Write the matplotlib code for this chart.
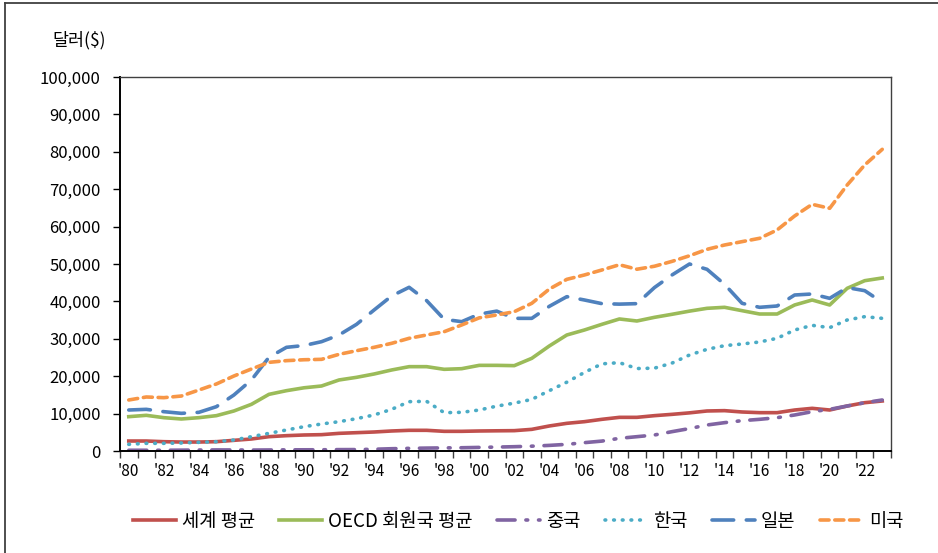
import matplotlib
matplotlib.use('Agg')
import matplotlib.pyplot as plt
from matplotlib.ticker import FuncFormatter
from matplotlib.lines import Line2D

plt.rcParams['font.family'] = ['Noto Sans CJK KR', 'DejaVu Sans']

years = list(range(1980, 2024))
world = [2670, 2670, 2490, 2400, 2400, 2490, 2850, 3210, 3830, 4100,
         4280, 4370, 4720, 4900, 5080, 5350, 5530, 5530, 5260, 5260,
         5350, 5400, 5440, 5790, 6690, 7400, 7840, 8470, 9000, 9000,
         9450, 9800, 10200, 10700, 10790, 10430, 10250, 10250, 10960, 11410,
         10960, 12030, 12920, 13370]
oecd = [9180, 9540, 8910, 8560, 8910, 9450, 10700, 12480, 15150, 16130,
        16900, 17380, 18990, 19700, 20590, 21660, 22550, 22550, 21840, 22010,
        22900, 22900, 22820, 24780, 28080, 31020, 32350, 33870, 35300, 34760,
        35740, 36550, 37400, 38150, 38420, 37520, 36630, 36630, 39040, 40380,
        39040, 43500, 45540, 46260]
china = [200, 200, 200, 230, 260, 290, 280, 250, 280, 310,
         320, 330, 370, 380, 470, 610, 710, 780, 830, 870,
         960, 1050, 1150, 1290, 1500, 1780, 2230, 2650, 3390, 3830,
         4280, 5170, 6000, 6950, 7580, 8110, 8470, 8910, 9630, 10520,
         11140, 12030, 12920, 13640]
korea = [1780, 2050, 2050, 2140, 2320, 2490, 2940, 3830, 4720, 5620,
         6500, 7220, 7840, 8650, 9630, 11140, 13190, 13280, 10250, 10340,
         10960, 12000, 12800, 13800, 16130, 18400, 21000, 23300, 23620, 22050,
         22150, 23500, 25670, 27180, 28170, 28610, 29150, 30130, 32350, 33600,
         32980, 35030, 35920, 35470]
japan = [10960, 11140, 10520, 10070, 10340, 11850, 14970, 18990, 25050, 27720,
         28200, 29230, 31020, 33870, 37700, 41450, 43770, 40200, 35210, 34580,
         36600, 37400, 35470, 35470, 38680, 41270, 40380, 39400, 39270, 39400,
         43700, 47060, 50000, 48580, 44570, 39490, 38420, 38770, 41710, 41980,
         40820, 43680, 42870, 39760]
usa = [13640, 14440, 14260, 14700, 16300, 17920, 20050, 21930, 23700, 24160,
       24400, 24510, 25850, 26820, 27720, 28790, 30130, 31020, 31900, 33700,
       35600, 36370, 37250, 39490, 43300, 45900, 47060, 48400, 49800, 48600,
       49400, 50700, 52200, 53920, 55080, 55980, 56870, 59100, 62840, 65960,
       64890, 71130, 76480, 80660]

names = ['세계 평균', 'OECD 회원국 평균', '중국', '한국', '일본', '미국']

fig = plt.figure(figsize=(9.38, 5.53), dpi=100)
ax = fig.add_axes([120/938, 1-451/553, 771/938, 374/553])

x = list(range(len(years)))
lw = 2.6
ax.plot(x, world, color='#C0504D', lw=lw, label=names[0])
ax.plot(x, oecd, color='#9BBB59', lw=lw, label=names[1])
ax.plot(x, china, color='#8064A2', lw=lw, dashes=(5, 3, 0.5, 3), dash_capstyle='round', label=names[2])
ax.plot(x, korea, color='#4BACC6', lw=lw, dashes=(0.2, 2.2), dash_capstyle='round', label=names[3])
ax.plot(x, japan, color='#4F81BD', lw=lw, dashes=(6, 3.5), dash_capstyle='round', label=names[4])
ax.plot(x, usa, color='#F79646', lw=lw, dashes=(2.5, 1.6), dash_capstyle='round', label=names[5])

ax.set_xlim(-0.5, len(years) - 0.5)
ax.set_ylim(0, 100000)
ax.set_yticks(range(0, 100001, 10000))
ax.yaxis.set_major_formatter(FuncFormatter(lambda v, p: f'{int(v):,}'))
ax.set_xticks([i - 0.5 for i in range(len(years) + 1)])
ax.set_xticklabels([])
ax.set_xticks(x[::2], minor=True)
ax.set_xticklabels(["'" + str(y)[2:] for y in years[::2]], minor=True)
ax.tick_params(axis='x', which='major', direction='out', length=5, width=1, color='#404040')
ax.tick_params(axis='x', which='minor', length=0, pad=9, labelsize=11)
ax.tick_params(axis='y', direction='out', length=5, width=1, labelsize=12, pad=9)

for s in ['top', 'right']:
    ax.spines[s].set_color('#404040')
    ax.spines[s].set_linewidth(1.0)
for s in ['left', 'bottom']:
    ax.spines[s].set_color('black')
    ax.spines[s].set_linewidth(1.4)

fig.text(52/938, 1-40/553, '달러($)', fontsize=12.5, va='center', ha='left')

fig.legend(loc='center', bbox_to_anchor=(518/938, 1-521/553), ncol=6, frameon=False,
           fontsize=13.5, handlelength=2.3, handletextpad=0.3, columnspacing=1.3)

# outer frame of the chart
fig.add_artist(Line2D([5/938, 5/938], [0, 1-3/553], transform=fig.transFigure, color='#404040', lw=1.3))
fig.add_artist(Line2D([5/938, 1], [1-3/553, 1-3/553], transform=fig.transFigure, color='#404040', lw=1.3))

fig.savefig('out.png', dpi=100)
